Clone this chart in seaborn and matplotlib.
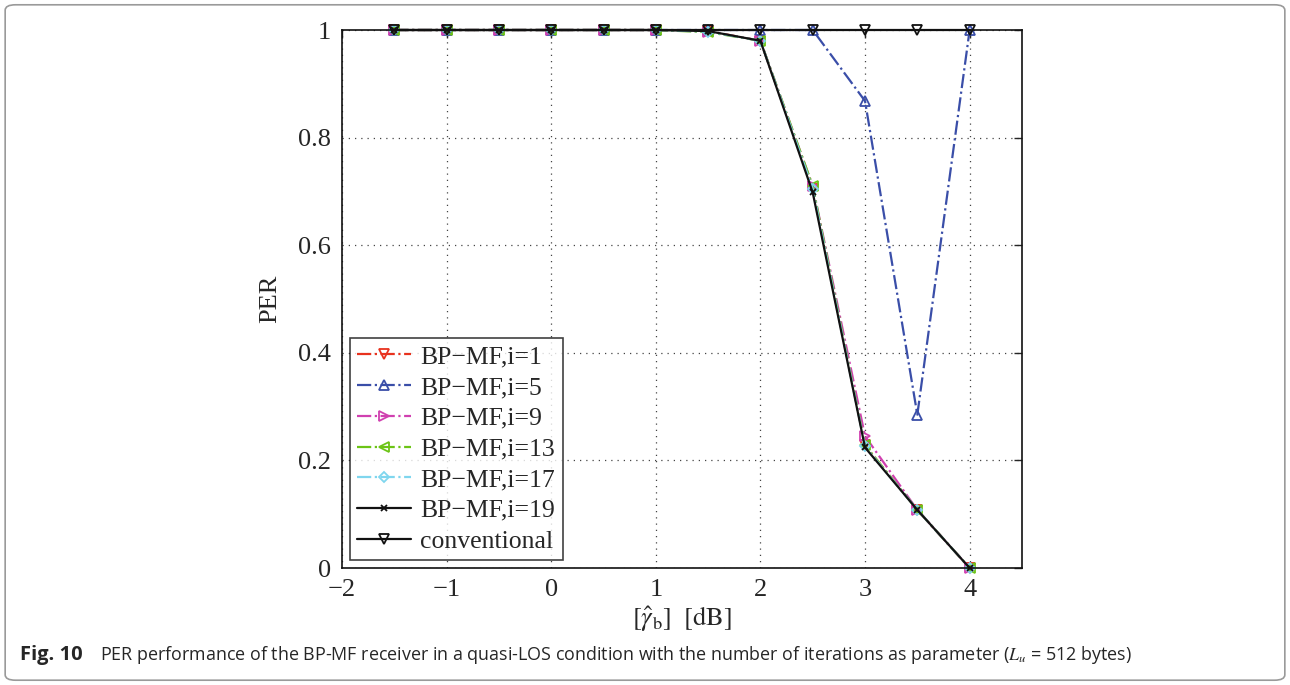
import numpy as np
import pandas as pd
import matplotlib
matplotlib.use('Agg')
import matplotlib.pyplot as plt
import seaborn as sns
from matplotlib.patches import FancyBboxPatch

sns.set_style('white')
plt.rcParams['font.family'] = ['Liberation Serif', 'DejaVu Serif']
plt.rcParams['mathtext.fontset'] = 'stix'

# data
snr = [-1.5, -1, -0.5, 0, 0.5, 1, 1.5, 2, 2.5, 3, 3.5, 4]
per_i1 = [1, 1, 1, 1, 1, 1, 0.998, 0.98, 0.705, 0.228, 0.108, 0.0]
per_i5 = [1, 1, 1, 1, 1, 1, 1, 1, 1, 0.868, 0.285, 1.0]
per_i9 = [1, 1, 1, 1, 1, 1, 0.997, 0.98, 0.71, 0.245, 0.108, 0.0]
per_i13 = [1, 1, 1, 1, 1, 1, 0.996, 0.98, 0.71, 0.228, 0.108, 0.0]
per_i17 = [1, 1, 1, 1, 1, 1, 0.997, 0.98, 0.705, 0.226, 0.108, 0.0]
per_i19 = [1, 1, 1, 1, 1, 1, 0.998, 0.98, 0.698, 0.224, 0.108, 0.0]
per_conv = [1, 1, 1, 1, 1, 1, 1, 1, 1, 1, 1, 1]

series = [
    ('BP\u2212MF,i=1', per_i1, '#e8321e', 'v', '-.'),
    ('BP\u2212MF,i=5', per_i5, '#3a4ea8', '^', '-.'),
    ('BP\u2212MF,i=9', per_i9, '#d040b0', '>', '-.'),
    ('BP\u2212MF,i=13', per_i13, '#6cc416', '<', '-.'),
    ('BP\u2212MF,i=17', per_i17, '#7fd6ee', 'D', '-.'),
    ('BP\u2212MF,i=19', per_i19, '#111111', 'x', '-'),
    ('conventional', per_conv, '#111111', 'v', '-'),
]

fig = plt.figure(figsize=(12.9, 6.85), dpi=100)
ax = fig.add_axes([0.2651, 0.1708, 0.7922 - 0.2651, 0.9562 - 0.1708])

for name, vals, col, mk, ls in series:
    df = pd.DataFrame({'x': snr, 'y': vals})
    sns.lineplot(data=df, x='x', y='y', ax=ax, color=col, marker=mk,
                 linestyle=ls, linewidth=1.6,
                 markersize=5 if mk == 'x' else (5.5 if mk == 'D' else 7),
                 markerfacecolor='none', markeredgecolor=col,
                 markeredgewidth=1.3, label=name, clip_on=False)

ax.set_xlim(-2, 4.5)
ax.set_ylim(0, 1)
ax.set_xticks([-2, -1, 0, 1, 2, 3, 4])
ax.set_xticklabels(['\u22122', '\u22121', '0', '1', '2', '3', '4'])
ax.set_yticks([0, 0.2, 0.4, 0.6, 0.8, 1])
ax.set_yticklabels(['0', '0.2', '0.4', '0.6', '0.8', '1'])
ax.tick_params(direction='in', length=6, width=1, labelsize=19,
               top=True, right=True, pad=8)
ax.grid(True, linestyle=(0, (1, 4)), color='#444444', linewidth=0.9)
for s in ax.spines.values():
    s.set_color('#111111')
    s.set_linewidth(1.2)

ax.set_xlabel(r'$[\hat{\gamma}_{\rm b}]\ \ [\rm dB]$', fontsize=19, labelpad=2)
ax.set_ylabel('PER', fontsize=19, labelpad=12)

leg = ax.legend(loc='lower left', fontsize=18.5, frameon=True, fancybox=False,
                edgecolor='#111111', handlelength=2.1, handletextpad=0.35,
                borderpad=0.3, labelspacing=0.3, borderaxespad=0.3)
leg.get_frame().set_linewidth(1.2)

# caption and outer frame
fig.text(0.0155, 0.044, 'Fig. 10', fontsize=14.5, fontweight='bold',
         family=['Open Sans', 'DejaVu Sans'], va='center')
fig.text(0.0775, 0.044,
         'PER performance of the BP-MF receiver in a quasi-LOS condition with the number of '
         'iterations as parameter ($L_u$ = 512 bytes)',
         fontsize=12.85, family=['Open Sans', 'DejaVu Sans'], va='center')
frame = FancyBboxPatch((0.004, 0.007), 0.992, 0.986, boxstyle='round,pad=0,rounding_size=0.008',
                       transform=fig.transFigure, fill=False, edgecolor='#9a9a9a', linewidth=1.2)
fig.patches.append(frame)

fig.savefig('out.png', dpi=100)
